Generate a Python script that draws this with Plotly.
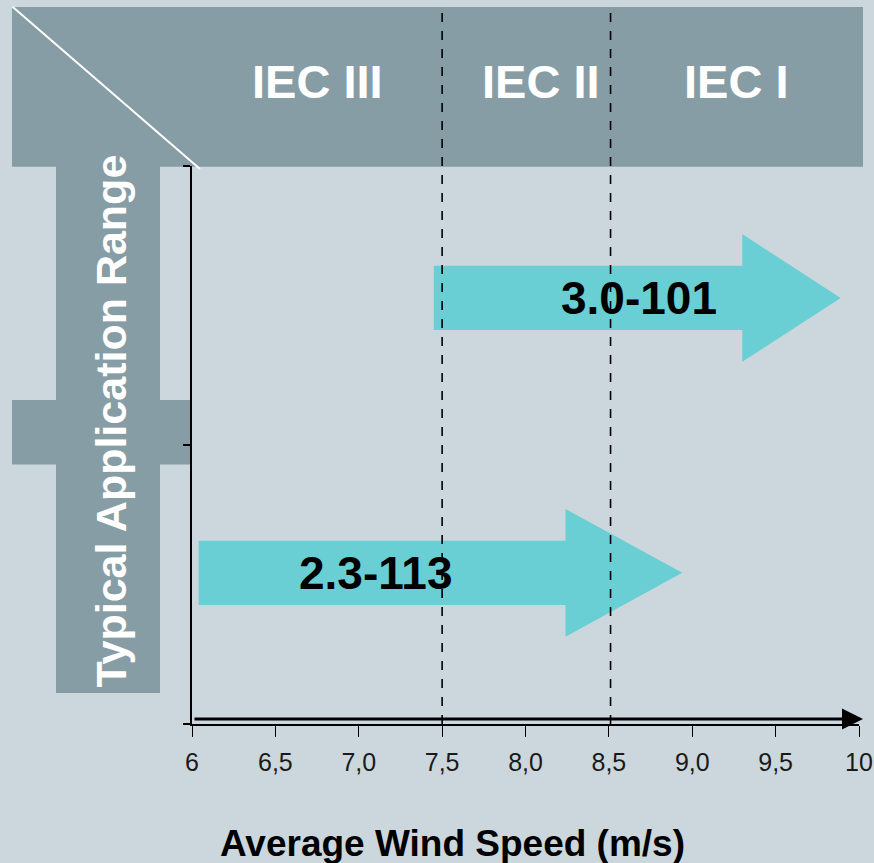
import plotly.graph_objects as go

# ---------------- data ----------------
models = ["3.0-101", "2.3-113"]
wind_start = [7.45, 6.04]          # m/s where the application range begins
wind_head = [9.30, 8.24]           # m/s where the arrow head begins
wind_end = [9.89, 8.94]            # m/s where the application range ends (tip)
row_level = [1.527, 0.542]         # vertical level of each turbine arrow
label_x = [8.68, 7.10]             # label centre (m/s)

iec_classes = ["IEC III", "IEC II", "IEC I"]
iec_label_x = [6.75, 8.09, 9.26]
iec_bounds = [7.5, 8.51]

tick_vals = [6, 6.5, 7, 7.5, 8, 8.5, 9, 9.5, 10]
tick_text = ["6", "6,5", "7,0", "7,5", "8,0", "8,5", "9,0", "9,5", "10"]

# ---------------- style ----------------
BG = "#cbd7dc"
BAND = "#879da5"
CYAN = "#69cfd5"
FONT = "Liberation Sans, Arial, sans-serif"
SHAFT_HALF = 0.1152
HEAD_HALF = 0.229

W, H = 874, 863
L, R, T, B = 192, 15, 166, 139
PW, PH = W - L - R, H - T - B


def px(x):
    return (x - L) / PW


def py(y):
    return (H - B - y) / PH


fig = go.Figure()

# turbine arrows
for name, x0, xh, x1, c in zip(models, wind_start, wind_head, wind_end, row_level):
    xs = [x0, xh, xh, x1, xh, xh, x0, x0]
    ys = [c + SHAFT_HALF, c + SHAFT_HALF, c + HEAD_HALF, c, c - HEAD_HALF,
          c - SHAFT_HALF, c - SHAFT_HALF, c + SHAFT_HALF]
    fig.add_trace(go.Scatter(x=xs, y=ys, mode="lines", fill="toself",
                             fillcolor=CYAN, line=dict(width=0, color=CYAN),
                             hoverinfo="skip", showlegend=False, name=name))

shapes = []
# header band
shapes.append(dict(type="rect", xref="paper", yref="paper", layer="below",
                   x0=px(12), x1=px(863), y0=py(166.7), y1=py(7),
                   fillcolor=BAND, line=dict(width=0)))
# vertical bar
shapes.append(dict(type="rect", xref="paper", yref="paper", layer="below",
                   x0=px(56), x1=px(160), y0=py(693), y1=py(166),
                   fillcolor=BAND, line=dict(width=0)))
# horizontal bar
shapes.append(dict(type="rect", xref="paper", yref="paper", layer="below",
                   x0=px(12), x1=px(192), y0=py(464.5), y1=py(400),
                   fillcolor=BAND, line=dict(width=0)))
# diagonal white line
shapes.append(dict(type="line", xref="paper", yref="paper", layer="below",
                   x0=px(12.5), y0=py(6.7), x1=px(200), y1=py(169),
                   line=dict(color="white", width=2)))
# IEC boundaries
for b in iec_bounds:
    shapes.append(dict(type="line", xref="x", yref="paper", layer="above",
                       x0=b, x1=b, y0=0, y1=py(7),
                       line=dict(color="black", width=1.6, dash="dash")))

annotations = []
for txt, xc in zip(iec_classes, iec_label_x):
    annotations.append(dict(text="<b>%s</b>" % txt, x=xc, y=py(81), xref="x", yref="paper",
                            showarrow=False, xanchor="center", yanchor="middle",
                            font=dict(family=FONT, size=47, color="white")))
for name, lx, c in zip(models, label_x, row_level):
    annotations.append(dict(text="<b>%s</b>" % name, x=lx, y=c, xref="x", yref="y",
                            showarrow=False, xanchor="center", yanchor="middle",
                            font=dict(family=FONT, size=46, color="black")))
annotations.append(dict(text="<b>Typical Application Range</b>", textangle=-90,
                        x=px(110), y=py(421.5), xref="paper", yref="paper",
                        showarrow=False, xanchor="center", yanchor="middle",
                        font=dict(family=FONT, size=43, color="white")))
annotations.append(dict(text="<b>Average Wind Speed (m/s)</b>",
                        x=px(452), y=py(843), xref="paper", yref="paper",
                        showarrow=False, xanchor="center", yanchor="middle",
                        font=dict(family=FONT, size=37, color="black")))
# x axis arrow
annotations.append(dict(text="", x=10.024, y=0.018, ax=6.006, ay=0.018,
                        xref="x", yref="y", axref="x", ayref="y",
                        showarrow=True, arrowhead=2, arrowsize=1.4,
                        arrowwidth=3, arrowcolor="black"))

fig.update_layout(
    width=W, height=H,
    margin=dict(l=L, r=R, t=T, b=B, pad=0, autoexpand=False),
    paper_bgcolor=BG, plot_bgcolor=BG,
    shapes=shapes, annotations=annotations,
    showlegend=False,
    xaxis=dict(range=[6, 10], tickvals=tick_vals, ticktext=tick_text,
               automargin=False, ticklabelstandoff=4,
               showgrid=False, zeroline=False, showline=True,
               linecolor="black", linewidth=1.5,
               ticks="outside", ticklen=11, tickwidth=1.3, tickcolor="black",
               tickfont=dict(family=FONT, size=25, color="#1a1a1a"),
               fixedrange=True),
    yaxis=dict(range=[0, 2], tickvals=[0, 1, 2], showticklabels=False,
               automargin=False,
               showgrid=False, zeroline=False, showline=True,
               linecolor="black", linewidth=1.5,
               ticks="outside", ticklen=7, tickwidth=1.5, tickcolor="black",
               fixedrange=True),
)

fig.write_html(
    "out.html",
    config=dict(displayModeBar=False),
    post_script="document.body.style.margin='0';document.body.style.overflow='hidden';",
)
